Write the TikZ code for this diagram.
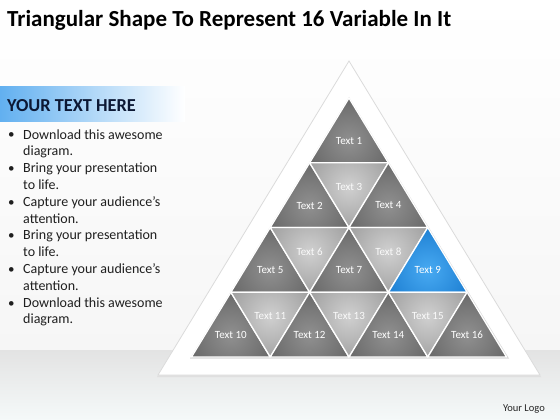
\documentclass[tikz,border=0pt]{standalone}
\usepackage{fontspec}
\setmainfont{Carlito}
\definecolor{inU}{HTML}{909090}
\definecolor{outU}{HTML}{575757}
\definecolor{inD}{HTML}{D0D0D0}
\definecolor{outD}{HTML}{8C8C8C}
\definecolor{inB}{HTML}{48AAF2}
\definecolor{outB}{HTML}{0B6CC4}
\definecolor{txtU}{HTML}{FFFFFF}
\definecolor{txtD}{HTML}{FAFAFA}
\definecolor{txtB}{HTML}{FFFFFF}
\definecolor{navy}{HTML}{0C1834}
\definecolor{hdrblue}{HTML}{62B0F0}
\definecolor{bandlow}{HTML}{F5F9F9}
\tikzset{
  lbl/.style={font=\fontsize{11}{12}\selectfont, inner sep=0pt},
  bul/.style={anchor=base west, inner sep=0pt, align=left, font=\fontsize{14}{16.8}\selectfont, text=black!88},
  dot/.style={anchor=base west, inner sep=0pt, font=\fontsize{13}{16.8}\selectfont, text=black!88},
}
\begin{document}
\begin{tikzpicture}[x=1pt,y=-1pt]
\useasboundingbox (0,0) rectangle (560,420);
% background
\shade[top color=white, bottom color=gray!7] (0,0) rectangle (560,350);
\shade[top color=gray!22, bottom color=bandlow] (0,350) rectangle (560,420);
% title
\node[anchor=base west, inner sep=0pt, font=\fontsize{23}{27}\selectfont\bfseries] (title) at (7,27) {Triangular Shape To Represent 16 Variable In It};
% header
\shade[left color=hdrblue, right color=white] (0,87) rectangle (185,121);
\node[anchor=base west, inner sep=0pt, font=\fontsize{18.3}{21}\selectfont\bfseries, text=navy] (hdr) at (7,111) {YOUR TEXT HERE};
% bullets
\foreach \i/\txt in {0/{Download this awesome\\diagram.}, 1/{Bring your presentation\\to life.}, 2/{Capture your audience’s\\attention.}, 3/{Bring your presentation\\to life.}, 4/{Capture your audience’s\\attention.}, 5/{Download this awesome\\diagram.}}{
  \node[dot] (d\i) at (8,{139+\i*33.6}) {•};
  \node[bul] (b\i) at (23,{155.8+\i*33.6}) {\txt};
}
% outer triangle
\fill[gray!25] (349,62) -- (541,377) -- (157,377) -- cycle;
\filldraw[fill=white, draw=gray!28, line width=0.8pt] (349,61) -- (540,375) -- (158,375) -- cycle;
% inner triangles
\def\ax{349}\def\ay{98}\def\hw{39.375}\def\rh{64.75}
\fill[gray!30] (349,97) -- (509,358.5) -- (190,358.5) -- cycle;
\foreach \r in {0,...,4}{\foreach \k in {0,...,\r}{\coordinate (P\r\k) at ({\ax+(2*\k-\r)*\hw},{\ay+\r*\rh});}}
\foreach \r/\k/\n/\t in {0/0/1/U, 1/0/2/U, 1/0/3/D, 1/1/4/U, 2/0/5/U, 2/0/6/D, 2/1/7/U, 2/1/8/D, 2/2/9/B, 3/0/10/U, 3/0/11/D, 3/1/12/U, 3/1/13/D, 3/2/14/U, 3/2/15/D, 3/3/16/U}{
  \pgfmathtruncatemacro\rr{\r+1}
  \pgfmathtruncatemacro\kk{\k+1}
  \if\t D
    \edef\va{P\r\k}\edef\vb{P\r\kk}\edef\vc{P\rr\kk}
    \pgfmathsetmacro\lx{\ax+(2*\k+1-\r)*\hw}
    \pgfmathsetmacro\ly{\ay+(\r+0.37)*\rh}
  \else
    \edef\va{P\r\k}\edef\vb{P\rr\k}\edef\vc{P\rr\kk}
    \pgfmathsetmacro\lx{\ax+(2*\k-\r)*\hw}
    \pgfmathsetmacro\ly{\ay+(\r+0.66)*\rh}
  \fi
  \begin{scope}
    \clip (\va) -- (\vb) -- (\vc) -- cycle;
    \fill[out\t] (\va) -- (\vb) -- (\vc) -- cycle;
    \shade[inner color=in\t, outer color=out\t] (\lx,\ly) circle (64pt);
  \end{scope}
  \draw[white, line width=1.3pt, line join=round] (\va) -- (\vb) -- (\vc) -- cycle;
  \node[lbl, text=txt\t] (t\n) at (\lx,\ly) {Text \n};
}
% logo
\node[anchor=base east, inner sep=0pt, font=\fontsize{10.5}{12}\selectfont, text=black!85] (logo) at (545,411) {Your Logo};
\end{tikzpicture}
\end{document}
